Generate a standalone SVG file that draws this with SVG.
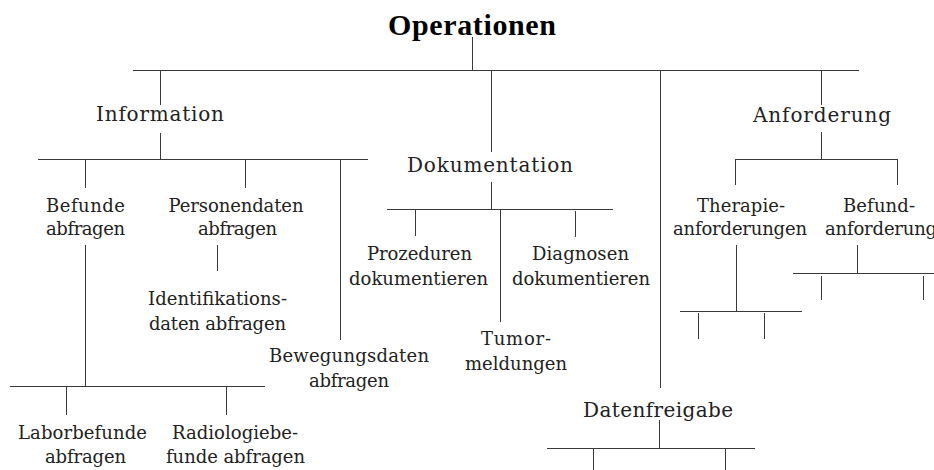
<svg xmlns="http://www.w3.org/2000/svg" width="934" height="470" viewBox="0 0 934 470">
  <style>
    .ln { stroke: #3a3a3a; stroke-width: 1; fill: none; }
    .t { font-family: "DejaVu Serif", "Liberation Serif", serif; font-size: 18px; fill: #222222; text-anchor: middle; }
    .h { font-size: 20px; }
    .title { font-family: "Liberation Serif", "Times New Roman", serif; font-weight: bold; font-size: 30px; fill: #000; text-anchor: middle; }
  </style>
  <rect width="934" height="470" fill="#ffffff"/>

  <!-- connector lines of the tree -->
  <g id="connectors" class="ln">
    <!-- root bar -->
    <path d="M472.5 37V70.5M133 70.5H859"/>
    <!-- Information -->
    <path d="M160.5 70V105M160.5 133V159.5M38 159.5H368M85.5 160V188M245.5 160V188M340.5 160V340"/>
    <path d="M85.5 245V386.5M10 386.5H265M66.5 387V415M226.5 387V415"/>
    <path d="M217.5 245V271"/>
    <!-- Dokumentation -->
    <path d="M491.5 70V152M491.5 182V209.5M387 209.5H613M415.5 210V236M500.5 210V322M575.5 211V237"/>
    <!-- Datenfreigabe -->
    <path d="M660.5 70V388M659.5 420V448.5M547 448.5H755M593.5 449V470M725.5 449V470"/>
    <!-- Anforderung -->
    <path d="M821.5 70V105M821.5 132V159.5M735 159.5H897.5M735.5 159V185M897.5 159V185"/>
    <path d="M736.5 245V311.5M680 311.5H802M698.5 313V339M764.5 313V339"/>
    <path d="M857.5 245V273.5M793 273.5H934M821.5 276V300M923.5 276V300"/>
  </g>

  <g id="root"><text class="title" x="472" y="35" textLength="168" lengthAdjust="spacing">Operationen</text></g>

  <g id="information"><text class="t h" x="160" y="121" textLength="128" lengthAdjust="spacing">Information</text></g>
  <g id="befunde-abfragen">
    <text class="t" x="85.5" y="212" textLength="79" lengthAdjust="spacing">Befunde</text>
    <text class="t" x="85.5" y="235" textLength="79" lengthAdjust="spacing">abfragen</text>
  </g>
  <g id="personendaten-abfragen">
    <text class="t" x="236" y="212" textLength="135" lengthAdjust="spacing">Personendaten</text>
    <text class="t" x="237.5" y="235" textLength="79" lengthAdjust="spacing">abfragen</text>
  </g>
  <g id="identifikationsdaten">
    <text class="t" x="217.5" y="305" textLength="139" lengthAdjust="spacing">Identifikations-</text>
    <text class="t" x="217.5" y="330" textLength="137" lengthAdjust="spacing">daten abfragen</text>
  </g>
  <g id="bewegungsdaten">
    <text class="t" x="349" y="362" textLength="160" lengthAdjust="spacing">Bewegungsdaten</text>
    <text class="t" x="349" y="387" textLength="80" lengthAdjust="spacing">abfragen</text>
  </g>
  <g id="laborbefunde">
    <text class="t" x="82.5" y="439" textLength="129" lengthAdjust="spacing">Laborbefunde</text>
    <text class="t" x="85.5" y="463" textLength="81" lengthAdjust="spacing">abfragen</text>
  </g>
  <g id="radiologiebefunde">
    <text class="t" x="235" y="439" textLength="126" lengthAdjust="spacing">Radiologiebe-</text>
    <text class="t" x="235.5" y="463" textLength="139" lengthAdjust="spacing">funde abfragen</text>
  </g>

  <g id="dokumentation"><text class="t h" x="490" y="172" textLength="166" lengthAdjust="spacing">Dokumentation</text></g>
  <g id="prozeduren">
    <text class="t" x="419.5" y="260" textLength="105" lengthAdjust="spacing">Prozeduren</text>
    <text class="t" x="418.5" y="285" textLength="139" lengthAdjust="spacing">dokumentieren</text>
  </g>
  <g id="diagnosen">
    <text class="t" x="580.5" y="260" textLength="97" lengthAdjust="spacing">Diagnosen</text>
    <text class="t" x="581" y="285" textLength="138" lengthAdjust="spacing">dokumentieren</text>
  </g>
  <g id="tumormeldungen">
    <text class="t" x="516" y="345" textLength="70" lengthAdjust="spacing">Tumor-</text>
    <text class="t" x="516" y="370" textLength="102" lengthAdjust="spacing">meldungen</text>
  </g>

  <g id="datenfreigabe"><text class="t h" x="658" y="417" textLength="150" lengthAdjust="spacing">Datenfreigabe</text></g>

  <g id="anforderung"><text class="t h" x="822" y="122" textLength="138" lengthAdjust="spacing">Anforderung</text></g>
  <g id="therapieanforderungen">
    <text class="t" x="741" y="212" textLength="88" lengthAdjust="spacing">Therapie-</text>
    <text class="t" x="740" y="235" textLength="134" lengthAdjust="spacing">anforderungen</text>
  </g>
  <g id="befundanforderungen">
    <text class="t" x="879" y="212" textLength="72" lengthAdjust="spacing">Befund-</text>
    <text class="t" x="892" y="235" textLength="134" lengthAdjust="spacing">anforderungen</text>
  </g>
</svg>
